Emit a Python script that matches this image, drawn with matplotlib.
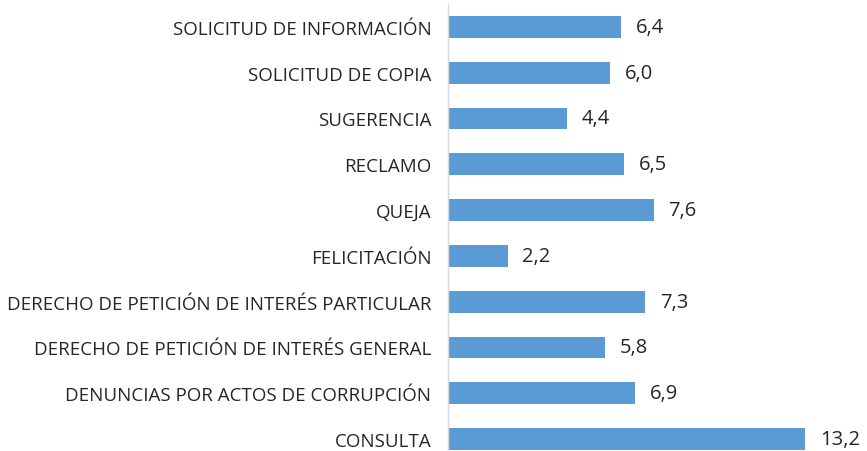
import matplotlib
matplotlib.use("Agg")
import matplotlib.pyplot as plt

categories = ["CONSULTA", "DENUNCIAS POR ACTOS DE CORRUPCIÓN",
              "DERECHO DE PETICIÓN DE INTERÉS GENERAL",
              "DERECHO DE PETICIÓN DE INTERÉS PARTICULAR",
              "FELICITACIÓN", "QUEJA", "RECLAMO", "SUGERENCIA",
              "SOLICITUD DE COPIA", "SOLICITUD DE INFORMACIÓN"]
values = [13.2, 6.9, 5.8, 7.3, 2.2, 7.6, 6.5, 4.4, 6.0, 6.4]

W, H = 867, 452
fig = plt.figure(figsize=(W/100, H/100), dpi=100)
ax = fig.add_axes([448/W, 0, 1 - 448/W, (452-5)/H])
y = list(range(len(categories)))
ax.barh(y, values, height=0.48, color="#5B9BD5")
ax.set_ylim(-0.26, 9.5)
ax.set_xlim(0, 15.49)
ax.set_yticks(y)
ax.set_yticklabels(categories, fontsize=13.5, family="Open Sans", color="#262626")
ax.tick_params(axis="y", length=0, pad=12)
ax.set_xticks([])
for s in ["top", "right", "bottom"]:
    ax.spines[s].set_visible(False)
ax.spines["left"].set_color("#D9D9D9")
ax.spines["left"].set_linewidth(1)
for yi, v in zip(y, values):
    ax.text(v + 0.55, yi, f"{v:.1f}".replace(".", ","), va="center", ha="left",
            fontsize=14.5, family="Open Sans", color="#262626")
fig.savefig("out.png", dpi=100)
